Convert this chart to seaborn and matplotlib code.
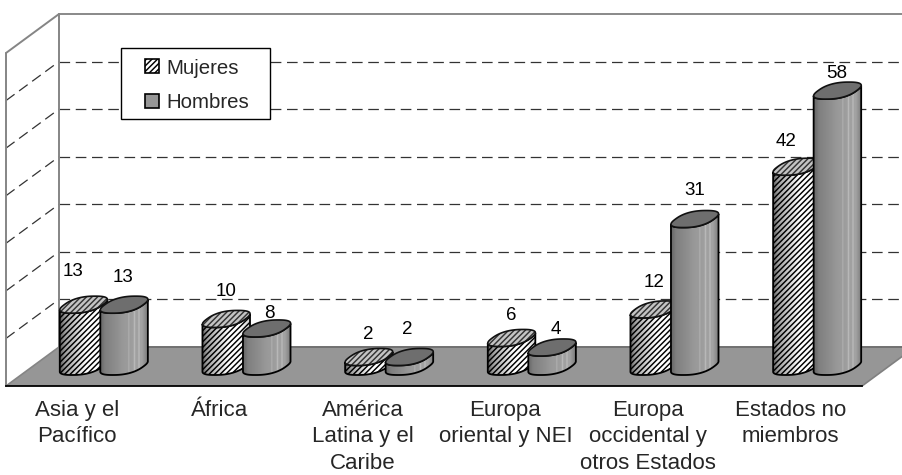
import numpy as np
import pandas as pd
import matplotlib
matplotlib.use("Agg")
import matplotlib.pyplot as plt
from matplotlib.legend_handler import HandlerPatch
from matplotlib.patches import PathPatch, Patch, Polygon, Rectangle
from matplotlib.path import Path
import seaborn as sns

# Participants per region, by sex
regions = ["Asia y el\nPacífico", "África", "América\nLatina y el\nCaribe",
           "Europa\noriental y NEI", "Europa\noccidental y\notros Estados",
           "Estados no\nmiembros"]
mujeres = [13, 10, 2, 6, 12, 42]
hombres = [13, 8, 2, 4, 31, 58]
series_names = ["Mujeres", "Hombres"]
grid_values = [10, 20, 30, 40, 50, 60, 70]

# Hand placement of the value labels, in pixels from the centre of each cap
label_shift_m = [(-11, 33), (0, 27), (-1, 22), (0, 22), (0, 27), (-11, 25)]
label_shift_h = [(-1, 27), (3, 15), (-2, 27), (4, 18), (0, 29), (-1, 17)]

W, H = 903, 475
plt.rcParams["font.family"] = ["Liberation Sans", "DejaVu Sans"]
sns.set_style("white", {"font.family": ["Liberation Sans", "DejaVu Sans"]})
plt.rcParams["hatch.linewidth"] = 1.05

fig = plt.figure(figsize=(W / 100, H / 100), dpi=100, facecolor="white")
ax = fig.add_axes([6 / W, (H - 386) / H, 856 / W, 333 / H])

df = pd.DataFrame({
    "region": regions * 2,
    "sexo": [series_names[0]] * 6 + [series_names[1]] * 6,
    "valor": mujeres + hombres,
})
sns.barplot(data=df, x="region", y="valor", hue="sexo", order=regions,
            hue_order=series_names, width=0.568, legend=False, ax=ax,
            errorbar=None)

XMIN, XMAX, YMAX = -0.5, 5.5, 70
ux = 856 / 6          # pixels per category
uy = 333 / YMAX       # pixels per value unit
DX, DY = 53 / ux, 39 / uy   # depth of the floor, in data units


def wall_line(x0, y0, x1, y1, **kw):
    ax.plot([x0, x1], [y0, y1], clip_on=False, **kw)


# Floor
ax.add_patch(Polygon([(XMIN, 0), (XMAX, 0), (XMAX + DX, DY), (XMIN + DX, DY)],
                     closed=True, facecolor="#969696", edgecolor="none",
                     clip_on=False, zorder=1))
wall_line(XMIN + DX, DY, XMAX + DX, DY, color="#707070", lw=1.4, zorder=1.1)
wall_line(XMAX, 0, XMAX + DX, DY, color="#808080", lw=1.2, zorder=1.1)

# Walls
wall_color = "#858585"
wall_line(XMIN, 0, XMIN, YMAX, color=wall_color, lw=1.4, zorder=0.8)
wall_line(XMIN + DX, DY, XMIN + DX, YMAX + DY, color=wall_color, lw=1.4, zorder=0.8)
wall_line(XMIN, YMAX, XMIN + DX, YMAX + DY, color=wall_color, lw=1.4, zorder=0.8)
wall_line(XMIN, 0, XMIN + DX, DY, color=wall_color, lw=1.2, zorder=1.1)

# Dashed gridlines along the side wall and the back wall
dash = dict(color="#333333", lw=0.9, linestyle=(0, (8.5, 4.5)), zorder=0.6)
for v in grid_values[:-1]:
    wall_line(XMIN, v, XMIN + DX, v + DY, **dash)
    wall_line(XMIN + DX, v + DY, XMAX + DX, v + DY, **dash)
wall_line(XMIN + DX, YMAX + DY, XMAX + DX, YMAX + DY, color="#808080", lw=1.3, zorder=0.6)

# Cylinder cross-section: half depth of the base, slightly squared-off outline
depth_x, depth_y = 11.5 / ux, 8.5 / uy
SQUARE = 0.8
RADIUS_SCALE = 0.95


def ring(cx, cy, r, n=121):
    t = np.linspace(0, 2 * np.pi, n)
    c = np.sign(np.cos(t)) * np.abs(np.cos(t)) ** SQUARE
    s = np.sign(np.sin(t)) * np.abs(np.sin(t)) ** SQUARE
    return cx + RADIUS_SCALE * r * c + depth_x * s, cy + depth_y * s


def body_path(cx, base, top, r):
    x, y = ring(cx, 0.0, r)
    right = np.argmax(x[:-1])
    left = np.argmin(x[:-1])
    # walk the lower half of the ring, from the right extreme to the left one
    idx = (right + np.arange(len(x) - 1)) % (len(x) - 1)
    idx = idx[::-1]
    stop = np.where(idx == left)[0][0]
    arc = idx[: stop + 1]
    bottom = np.c_[x[arc], y[arc] + base]
    upper = np.c_[x[arc][::-1], y[arc][::-1] + top]
    return Path(np.r_[bottom, upper, bottom[:1]], closed=True)


def cap_path(cx, top, r):
    x, y = ring(cx, top, r)
    return Path(np.c_[x, y], closed=True)


def side_shading(kind):
    u = np.linspace(0, 1, 64)
    if kind == 0:
        g = np.interp(u, [0, 0.1, 0.55, 0.8, 1], [0.38, 0.62, 1.0, 1.0, 0.82])
    else:
        g = np.interp(u, [0, 0.1, 0.5, 0.88, 1], [0.40, 0.50, 0.60, 0.64, 0.48])
        for s in (0.6, 0.72, 0.82):
            g[np.abs(u - s) < 0.012] = 0.72
    return g[None, :]


cap_face = ["#c4c4c4", "#6e6e6e"]
for s, container in enumerate(ax.containers):
    shifts = label_shift_m if s == 0 else label_shift_h
    for i, bar in enumerate(container):
        value = bar.get_height()
        r = bar.get_width() / 2
        cx = bar.get_x() + r + DX / 2
        z = 3 + s + i * 0.01
        bar.set_visible(False)

        base_y = DY / 2
        cap_y = value + base_y
        body = body_path(cx, base_y, cap_y, r)
        halfw = np.hypot(r, depth_x) * 1.02
        ax.add_patch(PathPatch(body, facecolor="none", edgecolor="black", lw=1.3,
                               hatch="//////" if s == 0 else None, clip_on=False,
                               zorder=z + 0.003))
        im = ax.imshow(side_shading(s), cmap="gray", vmin=0, vmax=1, aspect="auto",
                       extent=(cx - halfw, cx + halfw, base_y - depth_y, cap_y + depth_y),
                       interpolation="bilinear", zorder=z + 0.001)
        im.set_clip_path(PathPatch(body, transform=ax.transData))

        # cap: muted hatch on the Mujeres cylinders, dark fill on the Hombres ones
        cap = cap_path(cx, cap_y, r)
        ax.add_patch(PathPatch(cap, facecolor=cap_face[s],
                               edgecolor="#333333" if s == 0 else cap_face[s], lw=0,
                               hatch="//////" if s == 0 else None,
                               clip_on=False, zorder=z + 0.005))
        ax.add_patch(PathPatch(cap, facecolor="none", edgecolor="#111111", lw=1.2,
                               clip_on=False, zorder=z + 0.006))
        ax.annotate(f"{int(value)}", (cx, cap_y), xytext=shifts[i],
                    textcoords="offset pixels", ha="center", va="center",
                    fontsize=13.5, color="black", zorder=7, annotation_clip=False)

ax.set_xlim(XMIN, XMAX)
ax.set_ylim(0, YMAX)
ax.set_xlabel("")
ax.set_ylabel("")
ax.set_yticks([])
ax.patch.set_alpha(0)
for side in ("top", "left", "right"):
    ax.spines[side].set_visible(False)
ax.spines["bottom"].set_color("black")
ax.spines["bottom"].set_linewidth(1.3)
ax.spines["bottom"].set_zorder(2)

ax.set_xticks(np.arange(len(regions)), regions)
ax.set_xticks(np.arange(XMIN, XMAX + 1), minor=True)
ax.tick_params(axis="x", which="major", length=0, pad=10, labelsize=16)
ax.tick_params(axis="x", which="minor", length=5, width=1, color="black", direction="out")
for lab in ax.get_xticklabels():
    lab.set_linespacing(1.34)


def swatch(legend, orig_handle, xdescent, ydescent, width, height, fontsize):
    # small square pushed to the right end of the handle slot
    side = 10
    return Rectangle((width - side - xdescent, -ydescent + (height - side) / 2), side, side)


# Legend box drawn on its own so its padding can differ per side
ax.add_patch(Rectangle((121 / W, 1 - 119 / H), 149.5 / W, 71 / H, transform=fig.transFigure,
                       facecolor="white", edgecolor="black", lw=1.0, clip_on=False, zorder=7.9))
handles = [
    Patch(facecolor="white", edgecolor="black", hatch="//////", lw=1.2, label=series_names[0]),
    Patch(facecolor="#969696", edgecolor="black", lw=1.2, label=series_names[1]),
]
leg = ax.legend(handles=handles, loc="upper left",
                handler_map={Patch: HandlerPatch(patch_func=swatch)},
                bbox_to_anchor=(121 / W, 1 - 50 / H), bbox_transform=fig.transFigure,
                frameon=False, fontsize=14.7, handlelength=1.45, handleheight=0.7,
                handletextpad=0.35, labelspacing=0.76, borderpad=0.42, borderaxespad=0)
leg.set_zorder(8)

fig.savefig("out.png", dpi=100, facecolor="white")
